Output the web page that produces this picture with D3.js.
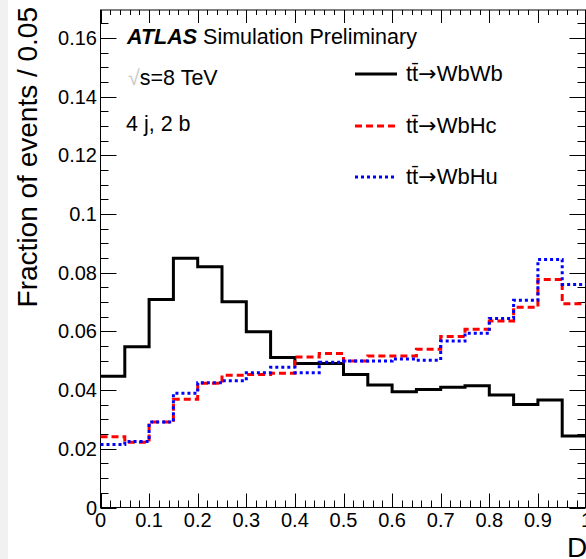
<!DOCTYPE html>
<html>
<head>
<meta charset="utf-8">
<script src="https://cdn.jsdelivr.net/npm/d3@7"></script>
<style>
  body { margin: 0; background: #fff; }
  svg text { font-family: "Liberation Sans", Arial, Helvetica, sans-serif; }
</style>
</head>
<body>
<script>
// bin edges 0..1 in steps of 0.05
var binEdges = d3.range(0, 21).map(function(i){ return i * 0.05; });

var wbwb = [0.0447, 0.0548, 0.0709, 0.0849, 0.0820, 0.0701, 0.0599, 0.0511, 0.0491, 0.0491,
            0.0453, 0.0417, 0.0394, 0.0402, 0.0410, 0.0415, 0.0383, 0.0351, 0.0366, 0.0244];
var wbhc = [0.0241, 0.0222, 0.0291, 0.0369, 0.0423, 0.0451, 0.0453, 0.0457, 0.0513, 0.0525,
            0.0499, 0.0516, 0.0516, 0.0539, 0.0583, 0.0607, 0.0635, 0.0682, 0.0777, 0.0694];
var wbhu = [0.0215, 0.0225, 0.0291, 0.0389, 0.0425, 0.0432, 0.0459, 0.0478, 0.0459, 0.0495,
            0.0499, 0.0499, 0.0506, 0.0502, 0.0567, 0.0594, 0.0644, 0.0706, 0.0845, 0.0760];

var seriesNames = ["WbWb", "WbHc", "WbHu"];
var xTickVals = [0, 0.1, 0.2, 0.3, 0.4, 0.5, 0.6, 0.7, 0.8, 0.9, 1];
var yTickVals = [0, 0.02, 0.04, 0.06, 0.08, 0.1, 0.12, 0.14, 0.16];

var width = 586, height = 559;

var svg = d3.select("body").append("svg")
    .attr("width", width)
    .attr("height", height);

// light strip at the very left
svg.append("rect").attr("x", 0).attr("y", 0).attr("width", 8).attr("height", height).attr("fill", "#f1f1f1");

var x = d3.scaleLinear().domain([0, 1]).range([100.5, 586.5]);
var y = d3.scaleLinear().domain([0, 0.1695]).range([507.5, 10]);

// frame
svg.append("rect")
    .attr("x", x(0)).attr("y", y(0.1695))
    .attr("width", 585.5 - x(0)).attr("height", y(0) - y(0.1695))
    .attr("fill", "none").attr("stroke", "#000").attr("stroke-width", 1);

// minor/major ticks, all pointing inward
var xMinor = d3.range(0, 51).map(function(i){ return i * 0.02; });
var yMinor = d3.range(0, 34).map(function(i){ return i * 0.005; });

var ticks = svg.append("g").attr("stroke", "#000").attr("stroke-width", 1);
xMinor.forEach(function(v, i){
  var len = (i % 5 === 0) ? 14 : 7;
  var lenTop = (i % 5 === 0) ? 13 : 5;
  var px = Math.round(x(v)) + 0.5;
  if (px > 586) return;
  ticks.append("line").attr("x1", px).attr("x2", px).attr("y1", y(0)).attr("y2", y(0) - len);
  ticks.append("line").attr("x1", px).attr("x2", px).attr("y1", 10).attr("y2", 10 + lenTop);
});
yMinor.forEach(function(v, i){
  var len = (i % 4 === 0) ? 16 : 8;
  var py = Math.round(y(v)) + 0.5;
  ticks.append("line").attr("x1", x(0)).attr("x2", x(0) + len).attr("y1", py).attr("y2", py);
  ticks.append("line").attr("x1", 585.5).attr("x2", 585.5 - len).attr("y1", py).attr("y2", py);
});

// tick labels
svg.append("g").selectAll("text").data(xTickVals).enter().append("text")
    .attr("x", function(d){ return x(d); })
    .attr("y", 527)
    .attr("text-anchor", "middle")
    .attr("font-size", 20)
    .text(function(d){ return d3.format("~g")(d); });

svg.append("g").selectAll("text").data(yTickVals).enter().append("text")
    .attr("x", 97)
    .attr("y", function(d){ return y(d) + 7; })
    .attr("text-anchor", "end")
    .attr("font-size", 20)
    .text(function(d){ return d3.format("~g")(d); });

// axis titles
svg.append("text")
    .attr("transform", "translate(37,7) rotate(-90)")
    .attr("text-anchor", "end")
    .attr("font-size", 28)
    .text("Fraction of events / 0.05");

svg.append("text")
    .attr("x", 567).attr("y", 557)
    .attr("font-size", 28)
    .text("D");

// histograms
var step = d3.line()
    .x(function(d){ return x(d[0]); })
    .y(function(d){ return y(d[1]); })
    .curve(d3.curveStepAfter);

function pts(vals){
  var p = vals.map(function(v, i){ return [binEdges[i], v]; });
  p.push([1, vals[vals.length - 1]]);
  return p;
}

var styles = [
  {data: wbwb, color: "#000", dash: null},
  {data: wbhc, color: "#ff0000", dash: "7,4"},
  {data: wbhu, color: "#0000ff", dash: "3,3"}
];

styles.forEach(function(s){
  svg.append("path")
      .datum(pts(s.data))
      .attr("d", step)
      .attr("fill", "none")
      .attr("stroke", s.color)
      .attr("stroke-width", 3)
      .attr("stroke-dasharray", s.dash);
});

// labels
var atlas = svg.append("text").attr("x", 127).attr("y", 44).attr("font-size", 21.5);
atlas.append("tspan").attr("font-weight", "bold").attr("font-style", "italic").text("ATLAS");
atlas.append("tspan").text(" Simulation Preliminary");

var sq = svg.append("text").attr("x", 128).attr("y", 85).attr("font-size", 21.5);
sq.append("tspan").attr("fill", "#c8c8c8").text("\u221A");
sq.append("tspan").text("s=8 TeV");

svg.append("text").attr("x", 126).attr("y", 131).attr("font-size", 21.5).text("4 j, 2 b");

// legend
var legY = [74, 126, 177];
styles.forEach(function(s, i){
  svg.append("line")
      .attr("x1", 355).attr("x2", 397)
      .attr("y1", legY[i]).attr("y2", legY[i])
      .attr("stroke", s.color)
      .attr("stroke-width", 3)
      .attr("stroke-dasharray", s.dash);
  var t = svg.append("text")
      .attr("x", 406).attr("y", legY[i] + 7)
      .attr("font-size", 22);
  t.append("tspan").text("tt\u0304");
  t.append("tspan").attr("font-family", "DejaVu Sans").attr("font-size", 22).text("\u2192");
  t.append("tspan").text(seriesNames[i]);
});
</script>
</body>
</html>
